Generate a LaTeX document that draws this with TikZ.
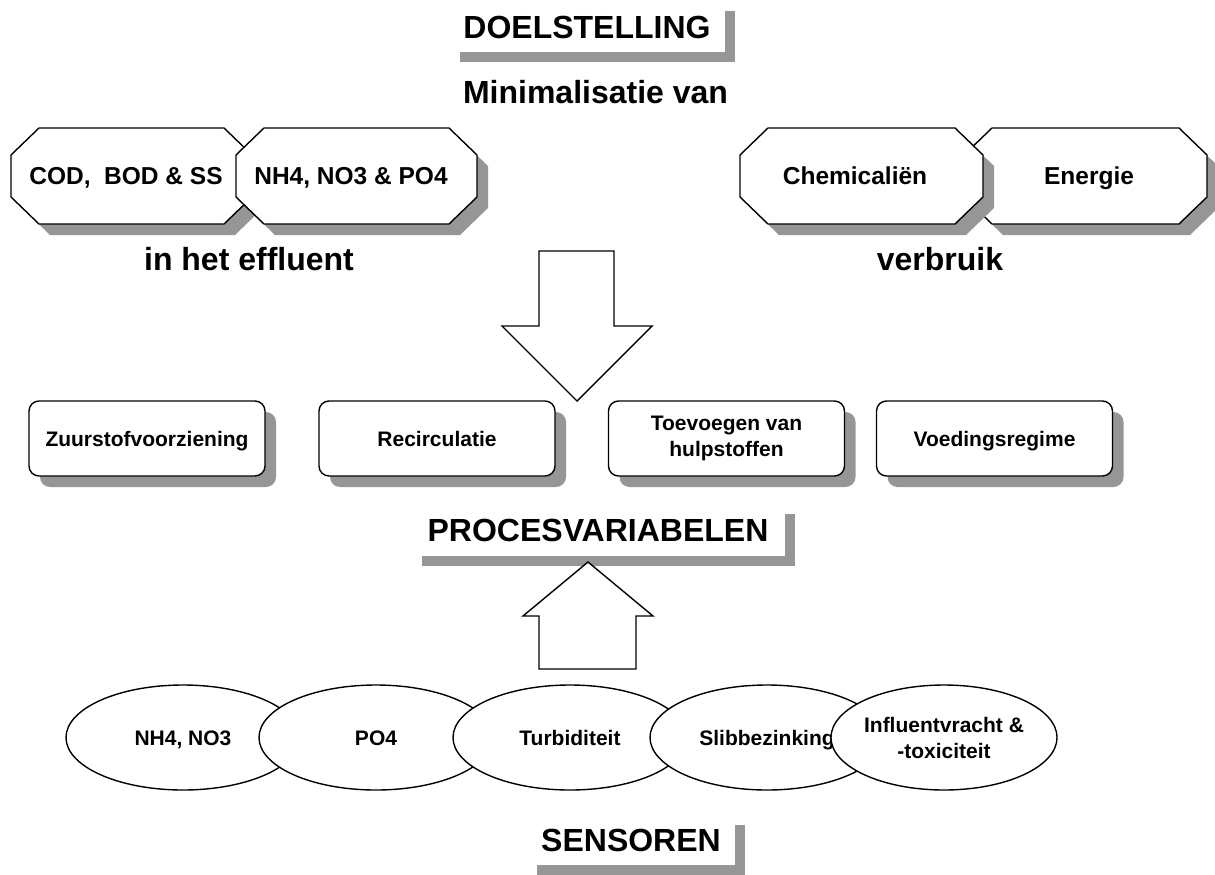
\documentclass[tikz,border=0pt]{standalone}
\usepackage{fontspec}
\setmainfont{Liberation Sans}
\usetikzlibrary{shapes.geometric,shadows}
\definecolor{shadowgray}{RGB}{150,150,150}
\newcommand\bigfont{\fontsize{32}{38}\selectfont\bfseries}
\newcommand\octfont{\fontsize{24.5}{29}\selectfont\bfseries}
\newcommand\smallfont{\fontsize{21}{26}\selectfont\bfseries}
\newcommand\octagonbox[8]{%
  \fill[shadowgray,shift={(11,11)}] (#2+28,#3) -- (#4-28,#3) -- (#4,#3+27) -- (#4,#5-27) -- (#4-28,#5) -- (#2+28,#5) -- (#2,#5-27) -- (#2,#3+27) -- cycle;
  \draw[shapeline,fill=white] (#2+28,#3) -- (#4-28,#3) -- (#4,#3+27) -- (#4,#5-27) -- (#4-28,#5) -- (#2+28,#5) -- (#2,#5-27) -- (#2,#3+27) -- cycle;
  \node[octtext] (#1) at (#6,#7) {#8};
}
\begin{document}
\begin{tikzpicture}[x=1pt,y=-1pt,
  shapeline/.style={draw=black,line width=1.4pt,line join=miter},
  octtext/.style={font=\octfont,inner sep=0pt,text height=17.5pt,text depth=0pt},
  heading/.style={fill=white,font=\bigfont,inner sep=0pt,text height=23pt,text depth=0pt,
    drop shadow={shadow xshift=10pt,shadow yshift=-10pt,fill=shadowgray,opacity=1}},
  bigtext/.style={font=\bigfont,inner sep=0pt,text height=23pt,text depth=0pt},
  capsmall/.style={text height=15pt,text depth=0pt},
  varbox/.style={shapeline,fill=white,rounded corners=10pt,minimum width=236pt,minimum height=75pt,
    font=\smallfont,align=center,inner sep=0pt,
    drop shadow={shadow xshift=11pt,shadow yshift=-11pt,fill=shadowgray,opacity=1}},
  sensor/.style={shapeline,fill=white,ellipse,minimum width=234pt,minimum height=105pt,
    font=\smallfont,align=center,inner sep=0pt},
  blockarrow/.style={shapeline,fill=white}
]
\useasboundingbox (0,0) rectangle (1215,875);

% headings
\node[heading,minimum width=275pt,minimum height=51pt] (doel) at (587,27) {DOELSTELLING};
\node[bigtext] (minim) at (595.5,92) {Minimalisatie van};

% octagons
\octagonbox{cod}{11}{128}{252}{224}{126}{176}{COD,\ \ BOD \& SS}
\octagonbox{nh}{236}{128}{477}{224}{351}{176}{NH4, NO3 \& PO4}
\octagonbox{energie}{964}{128}{1207}{224}{1089}{176}{Energie}
\octagonbox{chem}{740}{128}{983}{224}{855}{176}{Chemicaliën}

\node[bigtext] (effl) at (249,259) {in het effluent};
\node[bigtext] (verbr) at (940,259) {verbruik};

% down arrow
\draw[blockarrow] (539,251) -- (614,251) -- (614,326) -- (652,326) -- (577,401) -- (502,326) -- (539,326) -- cycle;

% process variable boxes
\node[varbox,capsmall] (zuur) at (147,438.5) {Zuurstofvoorziening};
\node[varbox,capsmall] (recirc) at (437,438.5) {Recirculatie};
\node[varbox] (toev) at (726.5,438.5) {Toevoegen van\\hulpstoffen};
\node[varbox,capsmall] (voed) at (994.5,438.5) {Voedingsregime};

\node[heading,minimum width=373pt,minimum height=52pt] (proc) at (598,530) {PROCESVARIABELEN};

% up arrow
\draw[blockarrow] (588,562) -- (653,616) -- (636,616) -- (636,669) -- (539,669) -- (539,616) -- (523,616) -- cycle;

% sensors
\node[sensor,capsmall] (s1) at (183,737.5) {NH4, NO3};
\node[sensor,capsmall] (s2) at (376,737.5) {PO4};
\node[sensor,capsmall] (s3) at (570,737.5) {Turbiditeit};
\node[sensor,capsmall] (s4) at (767,737.5) {Slibbezinking};
\node[sensor,minimum width=206pt] (s5) at (944,737.5) {Influentvracht \&\\-toxiciteit};

\node[heading,minimum width=208pt,minimum height=50pt] (sens) at (631,840) {SENSOREN};
\end{tikzpicture}
\end{document}
